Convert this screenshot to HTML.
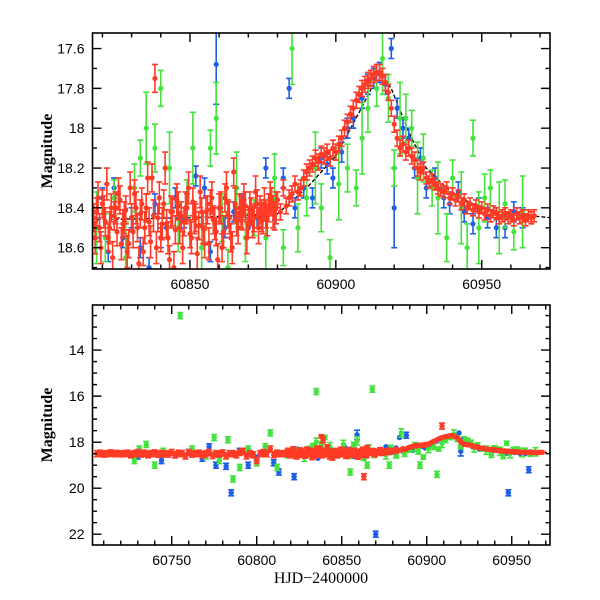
<!DOCTYPE html>
<html><head><meta charset="utf-8"><style>
html,body{margin:0;padding:0;background:#fff;width:600px;height:600px;overflow:hidden}
svg{display:block}
text{font-family:"Liberation Sans",sans-serif;font-size:14px;fill:#000}
</style></head><body>
<svg id="chart" width="600" height="600" xmlns="http://www.w3.org/2000/svg"></svg>
<script>
// ---- data: top-panel (and shared) series ----
const redDays=[];for(let d=60817;d<=60968;d++)redDays.push(d);
const redMags=[18.45,18.42,18.50,18.38,18.47,18.55,18.40,18.44,18.52,18.36,
18.48,18.41,18.58,18.45,18.33,18.50,18.43,18.62,18.40,18.47,
18.25,17.75,18.45,18.55,18.38,18.48,18.66,18.42,18.51,18.39,
18.44,18.47,18.40,18.53,18.37,18.45,18.49,18.42,18.58,18.41,
18.38,18.46,18.52,18.40,18.60,18.35,18.43,18.55,18.22,18.47,
18.40,18.44,18.39,18.48,18.42,18.45,18.38,18.41,18.46,18.43,
18.40,18.37,18.44,18.36,18.42,18.30,18.39,18.35,18.33,18.28,
18.32,18.30,18.25,18.22,18.20,18.18,18.15,18.17,18.13,18.14,
18.12,18.15,18.10,18.12,18.08,18.05,18.00,17.97,17.93,17.90,
17.86,17.83,17.80,17.78,17.76,17.75,17.73,17.72,17.72,17.74,
17.77,17.82,17.90,17.98,18.05,18.10,18.08,18.12,18.10,18.14,
18.16,18.20,18.22,18.20,18.25,18.27,18.26,18.28,18.30,18.31,
18.32,18.30,18.35,18.33,18.36,18.34,18.38,18.36,18.40,18.38,
18.41,18.39,18.42,18.40,18.43,18.41,18.44,18.42,18.43,18.45,
18.44,18.43,18.45,18.44,18.46,18.43,18.45,18.44,18.46,18.44,
18.45,18.44];
const redErrs=redDays.map(d=>d<60880?0.07:(d<60930?0.04:0.03));
const red2Days=[];for(let d=60817.5;d<=60879.5;d++)red2Days.push(d);
const red2Mags=[18.55,18.35,18.6,18.42,18.28,18.5,18.65,18.4,18.33,18.58,
18.45,18.62,18.3,18.52,18.4,18.68,18.38,18.5,18.25,18.57,
18.44,18.6,18.35,18.48,18.2,18.55,18.42,18.7,18.36,18.5,
18.6,18.4,18.3,18.55,18.45,18.63,18.32,18.5,18.42,18.58,
18.35,18.48,18.66,18.4,18.52,18.3,18.45,18.6,18.38,18.5,
18.42,18.36,18.55,18.4,18.47,18.32,18.5,18.44,18.38,18.46,
18.35,18.42,18.4];
const red2Errs=red2Days.map(d=>0.08);
const blueDays=[60818,60820,60822,60824,60827,60830,60833,60836,60838,60840,60842,60845,60848,60852,60855,60857,60859,60862,60865,60868,60870,60873,60876,60879,60882,60884,60886,60889,60892,60895,60897,60899,60902,60904,60906,60909,60911,60913,60915,60917,60919,60920,60921,60923,60925,60927,60929,60931,60934,60937,60939,60942,60944,60947,60949,60952,60955,60958,60961,60964];
const blueMags=[18.5,18.35,18.62,18.3,18.55,18.45,18.6,18.7,18.38,18.55,18.5,18.35,18.45,18.24,18.3,18.62,17.68,18.5,18.42,18.38,18.5,18.45,18.2,18.46,18.25,17.8,18.4,18.3,18.35,18.15,18.18,18.25,18.12,18.0,17.95,17.85,17.78,17.75,17.72,17.78,17.6,18.4,17.9,18.0,18.05,18.2,18.15,18.3,18.25,18.35,18.38,18.32,18.42,18.48,18.4,18.45,18.5,18.5,18.42,18.45];
const blueErrs=blueMags.map((m,i)=>blueDays[i]===60920||blueDays[i]===60859?0.2:0.05);
const greenDays=[60818,60821,60824,60828,60831,60833,60835,60838,60840,60843,60846,60849,60851,60854,60857,60859,60861,60863,60866,60869,60872,60876,60879,60882,60885,60887,60890,60893,60895,60898,60901,60904,60907,60909,60911,60914,60916,60918,60920,60922,60924,60926,60928,60930,60933,60935,60938,60940,60943,60945,60947,60949,60951,60953,60956,60958,60961,60964];
const greenMags=[18.5,18.55,18.35,18.65,18.3,18.15,18.0,18.1,17.8,18.2,18.5,18.35,18.1,18.6,18.1,17.95,18.45,18.7,18.3,18.55,18.45,18.55,18.25,18.6,17.6,18.5,18.35,18.2,18.4,18.65,18.28,18.2,18.3,18.05,17.9,17.8,17.65,17.85,18.2,17.95,17.95,18.0,18.25,18.15,18.3,18.35,18.55,18.25,18.4,18.6,18.05,18.5,18.35,18.3,18.45,18.38,18.52,18.42];
const greenErrs=greenMags.map((m,i)=>i%3===0?0.18:(i%3===1?0.12:0.09));
// ---- bottom-panel-only series ----
const earlyRedDays=[];for(let d=60706;d<=60816;d+=2)earlyRedDays.push(d);
const earlyRedMags=[18.5,18.48,18.52,18.5,18.47,18.5,18.49,18.51,18.5,18.48,
18.55,18.5,18.45,18.52,18.48,18.55,18.5,18.47,18.53,18.49,
18.5,18.52,18.45,18.55,18.48,18.5,18.6,18.45,18.52,18.5,
18.48,18.55,18.5,18.45,18.58,18.5,18.52,18.47,18.6,18.5,
18.5,18.55,18.45,18.4,18.6,18.5,18.55,18.8,18.5,18.45,
18.5,18.3,18.55,18.48,18.5,18.5];
const earlyBlueDays=[60730,60738,60744,60752,60760,60768,60772,60776,60782,60785,60790,60795,60800,60805,60810,60813,60822,60888,60948,60960,60870];
const earlyBlueMags=[18.6,18.5,18.8,18.55,18.45,18.7,18.2,19.0,19.05,20.2,18.4,19.0,18.7,18.5,18.9,19.3,19.5,17.7,20.2,19.2,22.0];
const earlyGreenDays=[60728,60731,60735,60740,60745,60755,60762,60770,60775,60778,60783,60786,60790,60795,60800,60805,60808,60812,60835,60868,60855,60865,60878,60896,60906];
const earlyGreenMags=[18.8,18.3,18.1,19.0,18.4,12.5,18.3,18.6,17.8,18.8,17.9,19.6,19.1,18.3,18.9,18.2,17.6,19.1,15.8,15.7,19.3,19.0,19.0,19.0,19.4];
const extraRedDays=[60909,60863,60839];
const extraRedMags=[17.3,19.5,17.9];
// model curve nodes
const modelDays=[60816,60850,60880,60890,60900,60908,60915,60919,60925,60931,60940,60950,60960,60974];
const modelMags=[18.46,18.45,18.43,18.3,18.14,17.92,17.72,17.8,18.02,18.2,18.33,18.4,18.43,18.45];

const NS="http://www.w3.org/2000/svg";
const svg=document.getElementById('chart');
const COL={blue:"#1f5ee6",green:"#44e23c",red:"#ff3b26"};
function mk(tag,attrs,parent){const e=document.createElementNS(NS,tag);for(const k in attrs)e.setAttribute(k,attrs[k]);(parent||svg).appendChild(e);return e;}

function panel(p){
  const g=mk('g',{});
  
  
  const sx=d=>p.L+(d-p.x0)/(p.x1-p.x0)*(p.R-p.L);
  const sy=m=>p.T+(m-p.y0)/(p.y1-p.y0)*(p.B-p.T);
  const clipId='clip-'+p.name;
  const cp=mk('clipPath',{id:clipId},g);mk('rect',{x:p.L,y:p.T,width:p.R-p.L,height:p.B-p.T},cp);
  const plot=mk('g',{'clip-path':'url(#'+clipId+')'},g);
  let dstr='';modelDays.forEach((d,i)=>{dstr+=(i?'L':'M')+sx(d).toFixed(1)+','+sy(modelMags[i]).toFixed(1);});
  const ml=mk('path',{d:dstr,fill:'none',stroke:'#000','stroke-width':1.3,'stroke-dasharray':'4,2'},plot);
  
  
  function series(days,mags,errs,col,name){
    const sg=mk('g',{},plot);
    
    
    days.forEach((d,i)=>{
      const x=sx(d),y=sy(mags[i]),e=errs?Math.abs(sy(mags[i]+errs[i])-y):p.defErr;
      if(e>1.5){
        mk('path',{d:`M${x},${y-e}V${y+e}M${x-3},${y-e}H${x+3}M${x-3},${y+e}H${x+3}`,stroke:col,'stroke-width':1.6,fill:'none'},sg);
      }
      const c=mk('circle',{cx:x,cy:y,r:p.r,fill:col},sg);
      
      
    });
  }
  series(blueDays,blueMags,blueErrs,COL.blue,'blue-series');
  if(p.bottom)series(earlyBlueDays,earlyBlueMags,null,COL.blue,'blue-series-extra');
  series(greenDays,greenMags,greenErrs,COL.green,'green-series');
  if(p.bottom)series(earlyGreenDays,earlyGreenMags,null,COL.green,'green-series-extra');
  series(red2Days,red2Mags,red2Errs,COL.red,'red-series-b');
  series(redDays,redMags,redErrs,COL.red,'red-series');
  if(p.bottom){series(earlyRedDays,earlyRedMags,null,COL.red,'red-series-early');series(extraRedDays,extraRedMags,null,COL.red,'red-series-extra');}
  const fr=mk('rect',{x:p.L,y:p.T,width:p.R-p.L,height:p.B-p.T,fill:'none',stroke:'#000','stroke-width':1.6},g);
  
  
  let tp='';
  for(let d=Math.ceil(p.x0/p.xmin)*p.xmin;d<=p.x1;d+=p.xmin){
    const x=sx(d),maj=Math.abs(d/p.xmaj-Math.round(d/p.xmaj))<1e-6,l=maj?9:4.5;
    tp+=`M${x},${p.B}v${-l}M${x},${p.T}v${l}`;
    if(maj){const t=mk('text',{x:x,y:p.B+20,'text-anchor':'middle'},g);t.textContent=d;
      
      }
  }
  const ys=Math.ceil(p.y0/p.ymin-1e-6);
  for(let k=ys;k*p.ymin<=p.y1+1e-6;k++){
    const m=k*p.ymin,y=sy(m),r=m/p.ymaj,maj=Math.abs(r-Math.round(r))<1e-6,l=maj?9:4.5;
    tp+=`M${p.L},${y}h${l}M${p.R},${y}h${-l}`;
    if(maj){const t=mk('text',{x:p.L-8,y:y+5,'text-anchor':'end'},g);t.textContent=String(+m.toFixed(1));
      
      }
  }
  mk('path',{d:tp,stroke:'#000','stroke-width':1.4,fill:'none'},g);
  const yl=mk('text',{x:0,y:0,transform:`translate(52,${(p.T+p.B)/2}) rotate(-90)`,'text-anchor':'middle',style:'font-family:"Liberation Serif",serif;font-size:16px;font-weight:bold'},g);
  yl.textContent='Magnitude';
  
  
}
panel({name:'top-panel',L:92.5,R:550,T:33,B:269,x0:60816.6,x1:60973.4,y0:17.522,y1:18.707,xmin:10,xmaj:50,ymin:0.1,ymaj:0.2,r:2.6,defErr:0});
panel({name:'bottom-panel',bottom:true,L:92.5,R:550,T:305,B:545,x0:60703.4,x1:60972.5,y0:12.04,y1:22.47,xmin:10,xmaj:50,ymin:0.5,ymaj:2,r:2.7,defErr:3});
const xt=mk('text',{x:321,y:583,'text-anchor':'middle',style:'font-family:"Liberation Serif",serif;font-size:16px'});
xt.textContent='HJD−2400000';


</script>
</body></html>
